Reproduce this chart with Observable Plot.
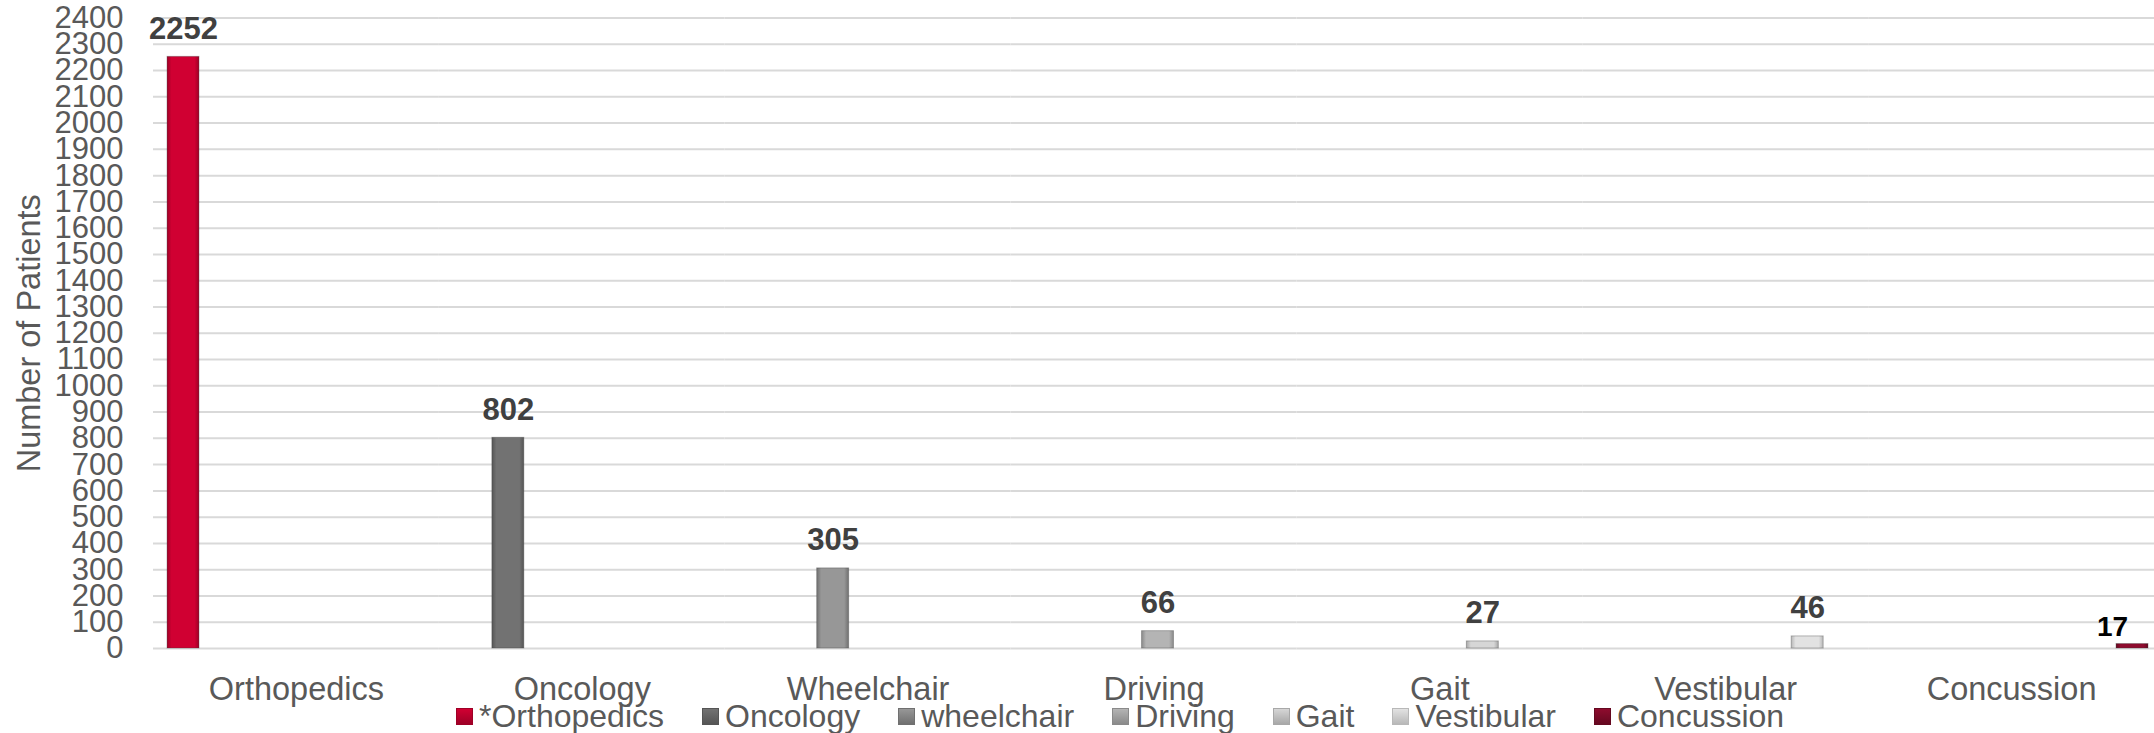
<!DOCTYPE html>
<html>
<head>
<meta charset="utf-8">
<script src="https://cdn.jsdelivr.net/npm/d3@7"></script>
<script src="https://cdn.jsdelivr.net/npm/@observablehq/plot@0.6"></script>
<style>
  html, body { margin: 0; padding: 0; background: white; }
  body { width: 2154px; height: 733px; overflow: hidden; font-family: "Liberation Sans", Arial, sans-serif; }
  #chart svg { overflow: visible; }
  #legend { position: relative; display: flex; align-items: center; height: 33px; margin-left: 456px; color: #595959; font-size: 32px; line-height: 33px; white-space: nowrap; }
  #legend .item { display: flex; align-items: center; margin-right: 38px; }
  #legend .sw { width: 17px; height: 17px; margin-right: 6px; box-sizing: border-box; }
</style>
</head>
<body>
<svg width="0" height="0" style="position:absolute">
  <defs id="grads"></defs>
</svg>
<div id="chart"></div>
<div id="legend"></div>
<script>
const categories = ["Orthopedics", "Oncology", "Wheelchair", "Driving", "Gait", "Vestibular", "Concussion"];
const seriesNames = ["*Orthopedics", "Oncology", "wheelchair", "Driving", "Gait", "Vestibular", "Concussion"];
const values = [2252, 802, 305, 66, 27, 46, 17];
const yTicks = [0, 100, 200, 300, 400, 500, 600, 700, 800, 900, 1000, 1100, 1200, 1300, 1400, 1500, 1600, 1700, 1800, 1900, 2000, 2100, 2200, 2300, 2400];
const seriesMain = ["#d00032", "#727272", "#979797", "#b4b4b4", "#d6d6d6", "#e2e2e2", "#8e0c2e"];
const seriesEdge = ["#9e0026", "#555555", "#707070", "#8a8a8a", "#a8a8a8", "#b8b8b8", "#650820"];

// gradients
const defs = document.getElementById("grads");
const ns = "http://www.w3.org/2000/svg";
const gradIds = seriesNames.map((s, i) => {
  const id = "g" + i;
  const g = document.createElementNS(ns, "linearGradient");
  g.setAttribute("id", id);
  g.setAttribute("x1", "0"); g.setAttribute("x2", "1"); g.setAttribute("y1", "0"); g.setAttribute("y2", "0");
  [[0, seriesEdge[i]], [0.14, seriesMain[i]], [0.86, seriesMain[i]], [1, seriesEdge[i]]].forEach(([o, c]) => {
    const st = document.createElementNS(ns, "stop");
    st.setAttribute("offset", o);
    st.setAttribute("stop-color", c);
    g.appendChild(st);
  });
  defs.appendChild(g);
  return `url(#${id})`;
});

const data = categories.map((c, i) => ({category: c, series: seriesNames[i], value: values[i]}));
const lastCat = categories[categories.length - 1];

const chart = Plot.plot({
  width: 2154,
  height: 700,
  marginLeft: 153,
  marginRight: 0,
  marginTop: 17.5,
  marginBottom: 52,
  style: {fontFamily: "'Liberation Sans', Arial, sans-serif", fontSize: "32.5px", color: "#595959", background: "white", overflow: "visible"},
  fx: {domain: categories, padding: 0, round: false, label: null},
  x: {domain: seriesNames, axis: null, round: false, paddingInner: 0.18, paddingOuter: 0.257, align: 0.7},
  y: {domain: [0, 2400]},
  color: {domain: seriesNames, range: gradIds},
  marks: [
    Plot.ruleY(yTicks, {stroke: "#d9d9d9", strokeWidth: 2}),
    Plot.axisY({ticks: yTicks, tickFormat: d => String(d), tickSize: 0, tickPadding: 30, fontSize: 31, label: null}),
    Plot.axisY({ticks: [], label: "Number of Patients", labelAnchor: "center", labelArrow: "none", labelOffset: 137}),
    Plot.axisFx({anchor: "bottom", tickSize: 0, tickPadding: 28, label: null}),
    Plot.barY(data, {fx: "category", x: "series", y: "value", fill: "series", stroke: "rgba(60,60,60,0.35)", strokeWidth: 1}),
    Plot.text(data.filter(d => d.category !== lastCat), {fx: "category", x: "series", y: "value", text: d => String(d.value), dy: -18, lineAnchor: "bottom", fontWeight: "bold", fill: "#404040", fontSize: 31}),
    Plot.text(data.filter(d => d.category === lastCat), {fx: "category", x: "series", y: "value", text: d => String(d.value), dy: -8, dx: -20, lineAnchor: "bottom", fontWeight: "bold", fill: "#000000", fontSize: 28})
  ]
});
document.getElementById("chart").appendChild(chart);

const legend = document.getElementById("legend");
seriesNames.forEach((s, i) => {
  const item = document.createElement("div");
  item.className = "item";
  const sw = document.createElement("span");
  sw.className = "sw";
  sw.style.background = `linear-gradient(180deg, ${seriesMain[i]} 0%, ${seriesEdge[i]} 100%)`;
  sw.style.border = `1px solid ${seriesEdge[i]}`;
  const t = document.createElement("span");
  t.textContent = s;
  item.appendChild(sw);
  item.appendChild(t);
  legend.appendChild(item);
});
</script>
</body>
</html>
